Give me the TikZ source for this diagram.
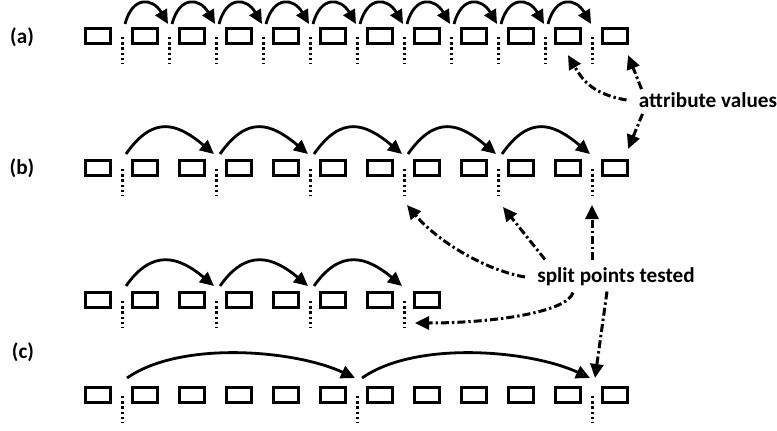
\documentclass[tikz,border=0pt]{standalone}
\usepackage{fontspec}
\setmainfont{Carlito}
\usepackage{tikz}
\usetikzlibrary{arrows.meta,calc}

\begin{document}
\begin{tikzpicture}[x=0.5pt, y=0.5pt,
    box/.style={draw, line width=1.6pt, minimum width=12.5pt, minimum height=7.5pt, inner sep=0pt},
    cut/.style={line width=1.5pt, dash pattern=on 1.2pt off 1.4pt},
    hop/.style={line width=1.4pt, -{Triangle[length=7pt,width=6.5pt]}},
    hint/.style={line width=1.5pt, dash pattern=on 4pt off 1.5pt on 1.2pt off 1.5pt, -{Triangle[length=7pt,width=6.5pt]}},
    lbl/.style={font=\fontsize{10.6}{12}\selectfont\bfseries, inner sep=0pt}]
    \useasboundingbox (0,0) rectangle (777,430);

    % Values
    \foreach \i in {1,...,12} {
        \node[box] (a\i) at ({51+47*\i},394) {};
        \node[box] (b\i) at ({51+47*\i},262) {};
        \node[box] (d\i) at ({51+47*\i},35) {};
    }
    \foreach \i in {1,...,8}
        \node[box] (c\i) at ({51+47*\i},130) {};

    % Split points
    \foreach \k in {1,...,11} {
        \coordinate (sa\k) at ({75+47*\k},393);
        \draw[cut] (sa\k) -- ++(0,-27) coordinate (ea\k);
    }
    \foreach \k in {1,3,...,11} {
        \coordinate (sb\k) at ({75+47*\k},261);
        \draw[cut] (sb\k) -- ++(0,-27) coordinate (eb\k);
    }
    \foreach \k in {1,3,5,7} {
        \coordinate (sc\k) at ({75+47*\k},129);
        \draw[cut] (sc\k) -- ++(0,-27) coordinate (ec\k);
    }
    \foreach \k in {1,6,11} {
        \coordinate (sd\k) at ({75+47*\k},34);
        \draw[cut] (sd\k) -- ++(0,-27) coordinate (ed\k);
    }

    % Hops
    \foreach \k [evaluate=\k as \n using int(\k+1)] in {1,...,10}
        \draw[hop] ([shift={(1.5pt,6.5pt)}]sa\k) to[out=75, in=120, distance=15pt] ([shift={(-0.5pt,6.5pt)}]sa\n);
    \foreach \k/\n in {1/3,3/5,5/7,7/9,9/11}
        \draw[hop] ([shift={(2pt,7.5pt)}]sb\k) to[out=55, in=140, distance=24pt] ([shift={(-1pt,7.5pt)}]sb\n);
    \foreach \k/\n in {1/3,3/5,5/7}
        \draw[hop] ([shift={(2pt,7.5pt)}]sc\k) to[out=55, in=140, distance=23pt] ([shift={(-1pt,7.5pt)}]sc\n);
    \foreach \k/\n in {1/6,6/11}
        \draw[hop] ([shift={(2.5pt,9pt)}]sd\k) to[out=35, in=155, distance=33pt] ([shift={(-1pt,9pt)}]sd\n);

    % Labels
    \node[lbl] (la) at (22,393) {(a)};
    \node[lbl] (lb) at (22,262) {(b)};
    \node[lbl] (lc) at (23,78) {(c)};
    \node[lbl] (attr) at (708,330) {attribute values};
    \node[lbl] (tested) at (616,153) {split points tested};

    % Pointers
    \draw[hint] ([xshift=-6pt]attr.west) to[out=170, in=-60, distance=16pt] ([yshift=-5pt]a11.south);
    \draw[hint] ([shift={(1.5pt,1.5pt)}]attr.north west) -- ([shift={(-0.5pt,-5pt)}]a12.south east);
    \draw[hint] ([shift={(2pt,-3pt)}]attr.south west) -- ([shift={(-0.5pt,5pt)}]b12.north east);
    \draw[hint] ([xshift=-6pt]tested.west) to[out=170, in=-50, distance=22pt] ([shift={(1.5pt,-4.5pt)}]eb7);
    \draw[hint] ([shift={(4pt,4pt)}]tested.north west) -- ([shift={(2.5pt,-5.5pt)}]eb9);
    \draw[hint] ([shift={(-12pt,3.5pt)}]tested.north) -- ([yshift=-4.5pt]eb11);
    \draw[hint] ([shift={(-21.5pt,-3pt)}]tested.south) to[out=-105, in=0, out distance=10pt, in distance=40pt] ([shift={(5.5pt,2.5pt)}]ec7);
    \draw[hint] ([shift={(-4.5pt,-2.5pt)}]tested.south) -- ([shift={(1.5pt,9pt)}]sd11);
\end{tikzpicture}
\end{document}
